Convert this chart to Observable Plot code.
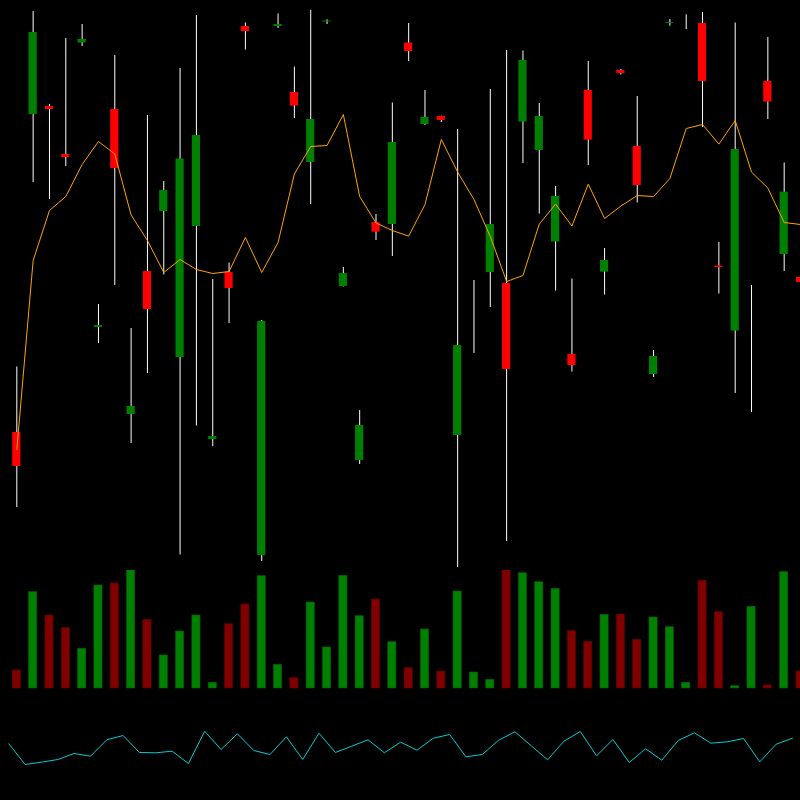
<!DOCTYPE html>
<html>
<head>
<meta charset="utf-8">
<script src="https://cdn.jsdelivr.net/npm/d3@7"></script>
<script src="https://cdn.jsdelivr.net/npm/@observablehq/plot@0.6"></script>
<style>
  html, body { margin: 0; padding: 0; background: #000; }
  #chart { width: 800px; height: 800px; background: #000; overflow: hidden; }
  #chart svg { display: block; }
</style>
</head>
<body>
<div id="chart"></div>
<script>
// ---- Data ----
const opens  = [168, 486, 494, 446, 557.5, 273, 491, 186, 329, 389, 243, 374, 161, 328, 574, 45, 574, 508, 438, 578.5, 314, 140, 378, 376, 557.5, 476, 484, 165, 279, 328, 317, 478.5, 450, 358.5, 246, 510, 328.4, 530, 454, 226, 577, 585.5, 577, 334.5, 269.5, 250, 519, 346, 323];
const highs  = [233.5, 589, 496, 562, 576, 296, 545, 272, 485, 419, 532, 585, 321, 337.5, 577.5, 280, 586.5, 533.5, 590, 580.7, 333, 190, 386, 497.5, 577, 510, 484.4, 471, 320, 511, 550, 549.5, 497, 414, 321.5, 539, 352, 531, 504, 250, 581, 585.7, 588, 358, 577.5, 315, 563, 437.5, 387.3];
const lows   = [93, 418, 401, 434, 554, 257, 315, 157, 227, 325.5, 45.5, 174.5, 154, 277, 550.5, 39, 572, 482, 396, 576, 313.5, 136, 360, 344, 539, 475, 478, 33, 247, 293, 59, 437, 386.5, 309.5, 228.4, 435, 305.5, 525.5, 397.5, 223, 574.3, 571, 473, 306.5, 207, 188, 481, 329, 316.4];
const closes = [134, 568, 491, 443, 561, 275, 432, 194, 291, 410, 441.5, 465, 164, 312, 569, 279, 576, 494.5, 481, 579.5, 327, 175, 368.4, 458, 549, 483, 480, 255, 279, 376, 231, 540, 484, 404, 235, 460.4, 340, 527, 415, 244, 578, 585.5, 519, 333, 451, 250, 498.5, 408.4, 318];
const movingAvg = [151, 340, 390, 404, 436, 459, 446.5, 385.5, 360, 328, 341, 331, 327, 329, 363, 328, 358, 426.5, 454, 455, 486, 404, 377.5, 370, 364.4, 396, 461, 428.4, 401, 364, 319, 325, 376.4, 396.4, 374.5, 416.4, 382, 394.5, 405, 404, 422, 472, 476, 456.4, 480, 428.4, 412.4, 378, 376];
const volumes = [18, 96.3, 73, 60.3, 39.7, 103, 105, 118.3, 68.7, 33, 57, 73, 5.7, 64.3, 84, 112.3, 23.7, 10.3, 86, 41, 112.7, 72.3, 89, 46.3, 20.3, 59, 17, 97, 16, 8.7, 119, 115.3, 106.3, 99.7, 57.3, 46.7, 73.7, 74, 48.7, 71, 61.3, 5.7, 107.7, 76.3, 2.3, 81.7, 3, 116.3, 17];
const oscillator = [56.7, 36, 38.3, 41, 47, 44.3, 60.7, 65, 48, 47.7, 49.3, 37, 69.3, 51, 66.7, 50, 46, 63.7, 41, 67.3, 48, 54.3, 60.7, 47.7, 58.3, 50.3, 62.3, 66, 43.7, 46, 60.3, 68.7, 54.7, 40.7, 59.3, 69, 44.7, 61, 38, 51.7, 40.3, 60, 67.7, 57.3, 58.7, 62, 38.7, 56.3, 62.3];

// ---- Build tables ----
const candles = opens.map((o, i) => ({
  i, open: o, high: highs[i], low: lows[i], close: closes[i],
  ma: movingAvg[i], vol: volumes[i], osc: oscillator[i],
  up: closes[i] >= o
}));
const ups = candles.filter(d => d.up);
const downs = candles.filter(d => !d.up);

const xScale = {domain: [-1, 48], axis: null};
const half = 0.25;

const pricePlot = Plot.plot({
  width: 800, height: 570, margin: 0,
  x: xScale,
  y: {domain: [30, 600], axis: null},
  style: {background: "#000"},
  marks: [
    Plot.ruleX(candles, {x: "i", y1: "low", y2: "high", stroke: "#ffffff", strokeWidth: 1}),
    Plot.rect(ups, {x1: d => d.i - half, x2: d => d.i + half, y1: "open", y2: "close", fill: "#008000"}),
    Plot.rect(downs, {x1: d => d.i - half, x2: d => d.i + half, y1: "open", y2: "close", fill: "#ff0000"}),
    Plot.line(candles, {x: "i", y: "ma", stroke: "#ffa500", strokeWidth: 1})
  ]
});

const volumePlot = Plot.plot({
  width: 800, height: 120, marginTop: 0, marginLeft: 0, marginRight: 0, marginBottom: 2,
  x: xScale,
  y: {domain: [0, 118], axis: null},
  style: {background: "#000"},
  marks: [
    Plot.rect(ups, {x1: d => d.i - half, x2: d => d.i + half, y1: 0, y2: "vol", fill: "#008000", stroke: "#006000", strokeWidth: 0.6}),
    Plot.rect(downs, {x1: d => d.i - half, x2: d => d.i + half, y1: 0, y2: "vol", fill: "#800000", stroke: "#600000", strokeWidth: 0.6})
  ]
});

const oscPlot = Plot.plot({
  width: 800, height: 110, margin: 0,
  x: xScale,
  y: {domain: [0, 110], axis: null},
  style: {background: "#000"},
  marks: [
    Plot.line(candles, {x: "i", y: "osc", dx: -8, stroke: "#00ced1", strokeWidth: 1})
  ]
});

const root = document.getElementById("chart");
root.append(pricePlot, volumePlot, oscPlot);
</script>
</body>
</html>
